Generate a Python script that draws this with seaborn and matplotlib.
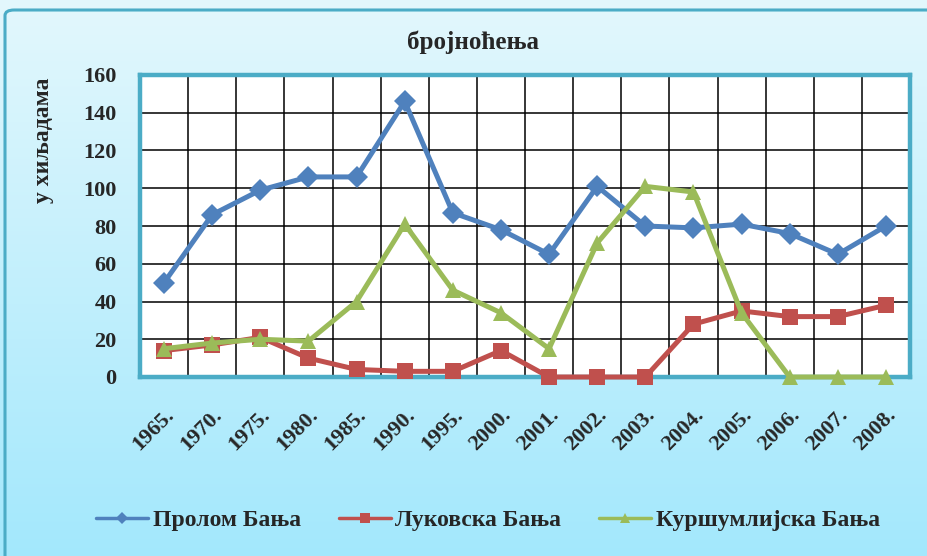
import numpy as np
import pandas as pd
import seaborn as sns
from matplotlib import pyplot as plt
from matplotlib.patches import FancyBboxPatch

years = ['1965.', '1970.', '1975.', '1980.', '1985.', '1990.', '1995.', '2000.',
         '2001.', '2002.', '2003.', '2004.', '2005.', '2006.', '2007.', '2008.']
prolom = [50, 86, 99, 106, 106, 146, 87, 78, 65, 101, 80, 79, 81, 76, 65, 80]
lukovska = [14, 17, 21, 10, 4, 3, 3, 14, 0, 0, 0, 28, 35, 32, 32, 38]
kursumlijska = [15, 18, 20, 19, 40, 81, 46, 34, 15, 71, 101, 98, 34, 0, 0, 0]
series_names = ['Пролом Бања', 'Луковска Бања', 'Куршумлијска Бања']

rows = []
for name, vals in zip(series_names, (prolom, lukovska, kursumlijska)):
    for i, v in enumerate(vals):
        rows.append({'pos': i, 'value': v, 'series': name})
df = pd.DataFrame(rows)

sns.set_style('white')
plt.rcParams['font.family'] = ['Liberation Serif', 'DejaVu Serif']
plt.rcParams['font.weight'] = 'bold'

fig = plt.figure(figsize=(9.27, 5.56), dpi=100)

# gradient background
bg = fig.add_axes([0, 0, 1, 1], zorder=-10)
grad = np.linspace(0, 1, 256).reshape(-1, 1)
top = np.array([0.89, 0.97, 0.99])
bot = np.array([0.64, 0.91, 0.99])
img = top + (bot - top) * grad[..., None]
bg.imshow(img.reshape(256, 1, 3), aspect='auto', extent=[0, 1, 0, 1])
bg.set_axis_off()
frame = FancyBboxPatch((5 / 927, -0.05), 1.1, 1 - 10 / 556 + 0.05,
                       boxstyle='round,pad=0,rounding_size=0.01',
                       transform=fig.transFigure, facecolor='none',
                       edgecolor='#4bacc6', linewidth=2.2)
fig.patches.append(frame)

ax = fig.add_axes([140 / 927, 1 - 377 / 556, 770 / 927, 302 / 556])
ax.set_facecolor('white')

palette = {series_names[0]: '#4f81bd', series_names[1]: '#c0504d', series_names[2]: '#9bbb59'}
markers = {series_names[0]: 'D', series_names[1]: 's', series_names[2]: '^'}
sns.lineplot(data=df, x='pos', y='value', hue='series', style='series',
             palette=palette, markers=markers, dashes=False, linewidth=3.6,
             markersize=11, markeredgewidth=0, ax=ax, clip_on=False, zorder=3)

ax.set_xlim(-0.5, 15.5)
ax.set_ylim(0, 160)
ax.set_yticks(range(0, 161, 20))
ax.set_xticks(range(len(years)))
ax.set_xticklabels(years, rotation=45, ha='right', rotation_mode='anchor')
ax.set_xticks(np.arange(-0.5, 15.6, 1), minor=True)
ax.grid(which='minor', axis='x', color='black', linewidth=1.1)
ax.grid(which='major', axis='y', color='black', linewidth=1.1)
ax.tick_params(axis='x', which='both', length=0, pad=20, labelsize=16)
ax.tick_params(axis='y', length=0, pad=17, labelsize=16)
for s in ax.spines.values():
    s.set_color('#4bacc6')
    s.set_linewidth(3.2)
ax.set_xlabel('')
ax.set_ylabel('')

fig.text(473 / 927, 1 - 42 / 556, 'бројноћења', ha='center', va='center', fontsize=18, fontweight='bold')
fig.text(44 / 927, 1 - 140 / 556, 'у хиљадама', ha='center', va='center', rotation=90,
         fontsize=17, fontweight='bold')

handles, labels = ax.get_legend_handles_labels()
ax.legend_.remove()
for h in handles:
    h.set_linewidth(2.5)
fig.legend(handles, labels, loc='center', bbox_to_anchor=(488 / 927, 1 - 520 / 556), ncol=3,
           frameon=False, fontsize=17, handlelength=2.2, columnspacing=1.6, handletextpad=0.2,
           markerscale=0.6)

fig.savefig('out.png', dpi=100)
